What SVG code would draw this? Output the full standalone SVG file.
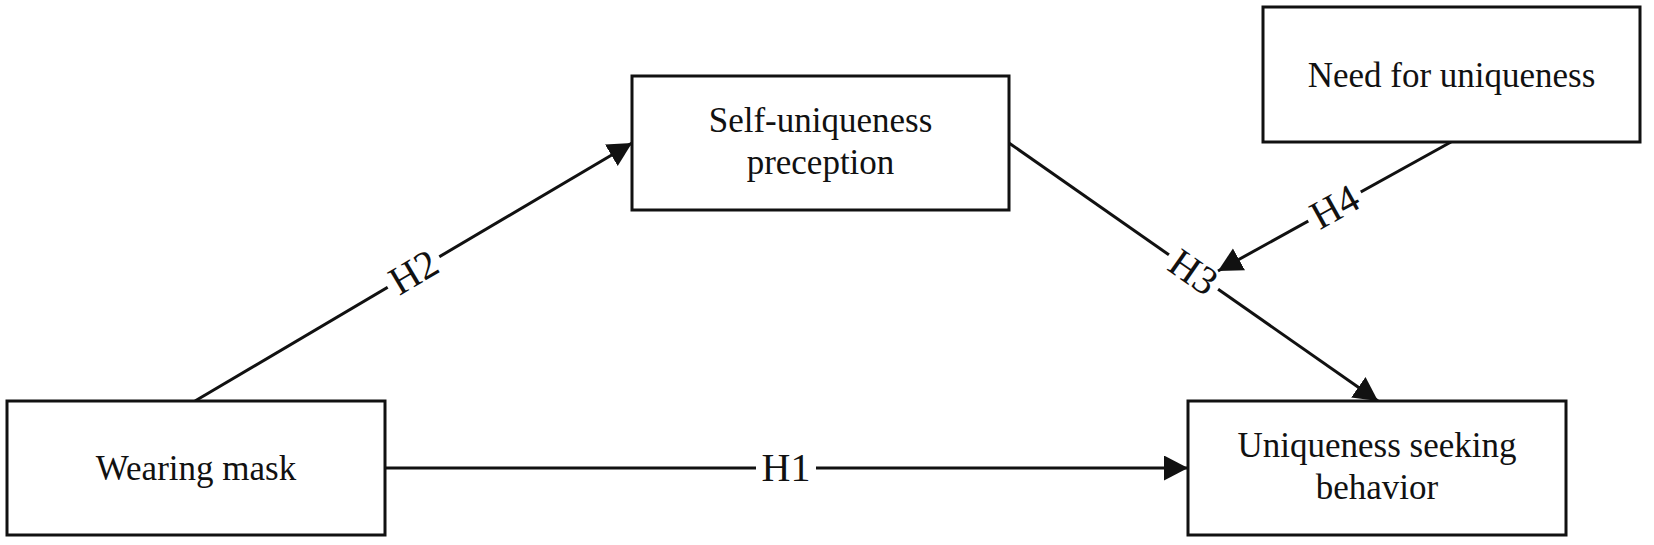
<svg xmlns="http://www.w3.org/2000/svg" width="1654" height="545" viewBox="0 0 1654 545">
<style>
  .box { fill: #ffffff; stroke: #111111; stroke-width: 3; }
  .txt { font-family: "Liberation Serif", "Times New Roman", serif; font-size: 35px; fill: #111111; text-anchor: middle; }
  .edge { stroke: #111111; stroke-width: 3; fill: none; marker-end: url(#arrow); }
  .lbl { font-family: "Liberation Serif", "Times New Roman", serif; font-size: 40px; fill: #111111; text-anchor: middle; }
  .lblbg { fill: #ffffff; stroke: none; }
</style>
<defs>
  <marker id="arrow" markerUnits="userSpaceOnUse" markerWidth="26" markerHeight="26" refX="24" refY="12.5" orient="auto">
    <path d="M0,0 L24,12.5 L0,25 z" fill="#111111"/>
  </marker>
</defs>
<rect width="1654" height="545" fill="#ffffff"/>
<g id="connectors">
  <line class="edge" x1="385" y1="468" x2="1188" y2="468"/>
  <line class="edge" x1="195" y1="401" x2="632" y2="143"/>
  <line class="edge" x1="1009" y1="143" x2="1378" y2="401"/>
  <line class="edge" x1="1451" y1="142" x2="1218" y2="271"/>
  <g transform="translate(786,467.5)">
    <rect class="lblbg" x="-30" y="-8" width="60" height="16"/>
    <text class="lbl" x="0" y="13.5">H1</text>
  </g>
  <g transform="translate(413.5,272) rotate(-30.56)">
    <rect class="lblbg" x="-30" y="-8" width="60" height="16"/>
    <text class="lbl" x="0" y="13.5">H2</text>
  </g>
  <g transform="translate(1193.5,272) rotate(34.96)">
    <rect class="lblbg" x="-30" y="-8" width="60" height="16"/>
    <text class="lbl" x="0" y="13.5">H3</text>
  </g>
  <g transform="translate(1334.5,206.5) rotate(-28.97)">
    <rect class="lblbg" x="-30" y="-8" width="60" height="16"/>
    <text class="lbl" x="0" y="13.5">H4</text>
  </g>
</g>
<g id="wearing-mask">
  <rect class="box" x="7" y="401" width="378" height="134"/>
  <text class="txt" x="196" y="480">Wearing mask</text>
</g>
<g id="self-uniqueness">
  <rect class="box" x="632" y="76" width="377" height="134"/>
  <text class="txt" x="820.5" y="132">Self-uniqueness</text>
  <text class="txt" x="820.5" y="174">preception</text>
</g>
<g id="need-for-uniqueness">
  <rect class="box" x="1263" y="7" width="377" height="135"/>
  <text class="txt" x="1451.5" y="87">Need for uniqueness</text>
</g>
<g id="uniqueness-seeking">
  <rect class="box" x="1188" y="401" width="378" height="134"/>
  <text class="txt" x="1377" y="457">Uniqueness seeking</text>
  <text class="txt" x="1377" y="499">behavior</text>
</g>
</svg>
